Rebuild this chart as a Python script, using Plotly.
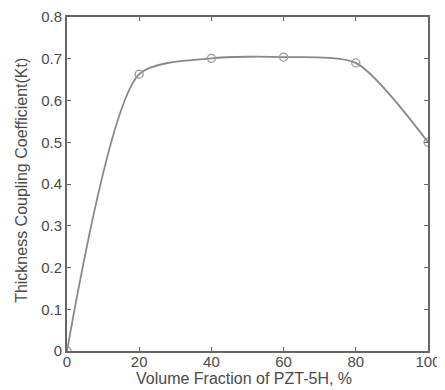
import plotly.graph_objects as go

volume_fraction = [0, 20, 40, 60, 80, 100]
kt = [0.0, 0.663, 0.701, 0.704, 0.690, 0.500]

x_ticks = [0, 20, 40, 60, 80, 100]
y_ticks = [0, 0.1, 0.2, 0.3, 0.4, 0.5, 0.6, 0.7, 0.8]
y_tick_labels = ["0", "0.1", "0.2", "0.3", "0.4", "0.5", "0.6", "0.7", "0.8"]

x_title = "Volume Fraction of PZT-5H, %"
y_title = "Thickness Coupling Coefficient(Kt)"

fig = go.Figure()
fig.add_trace(go.Scatter(
    x=volume_fraction, y=kt,
    mode="lines+markers",
    line=dict(color="#888888", width=1.8, shape="spline", smoothing=0.7),
    marker=dict(symbol="circle-open", size=8, color="#999999", line=dict(width=1.3)),
    showlegend=False,
))

font_family = "Liberation Sans, Arial, sans-serif"
txt = "#4a4a4a"
# page body has an 8px default margin, so the figure is sized to fit the window
fig.update_layout(
    width=437, height=382,
    margin=dict(l=59, r=17, t=9, b=39),
    paper_bgcolor="white", plot_bgcolor="white",
    font=dict(family=font_family, color=txt, size=15),
)
fig.update_xaxes(
    range=[0, 100], tickvals=x_ticks,
    ticks="inside", ticklen=4, tickcolor="#666666", tickwidth=1.2,
    showline=True, linecolor="#666666", linewidth=2, mirror="ticks",
    showgrid=False, zeroline=False, ticklabelstandoff=-4, automargin=False,
    tickfont=dict(size=15, color=txt),
)
fig.update_yaxes(
    range=[0, 0.8], tickvals=y_ticks, ticktext=y_tick_labels,
    ticks="inside", ticklen=4, tickcolor="#666666", tickwidth=1.2,
    showline=True, linecolor="#666666", linewidth=2, mirror="ticks",
    showgrid=False, zeroline=False, automargin=False,
    tickfont=dict(size=15, color=txt),
)
fig.add_annotation(
    text=x_title, xref="paper", yref="paper", x=0.49, y=-0.0838,
    xanchor="center", yanchor="middle", showarrow=False,
    font=dict(size=16, color=txt),
)
fig.add_annotation(
    text=y_title, xref="paper", yref="paper", x=-0.125, y=0.512,
    xanchor="center", yanchor="middle", showarrow=False, textangle=-90,
    font=dict(size=16, color=txt),
)

fig.write_html("out.html")
